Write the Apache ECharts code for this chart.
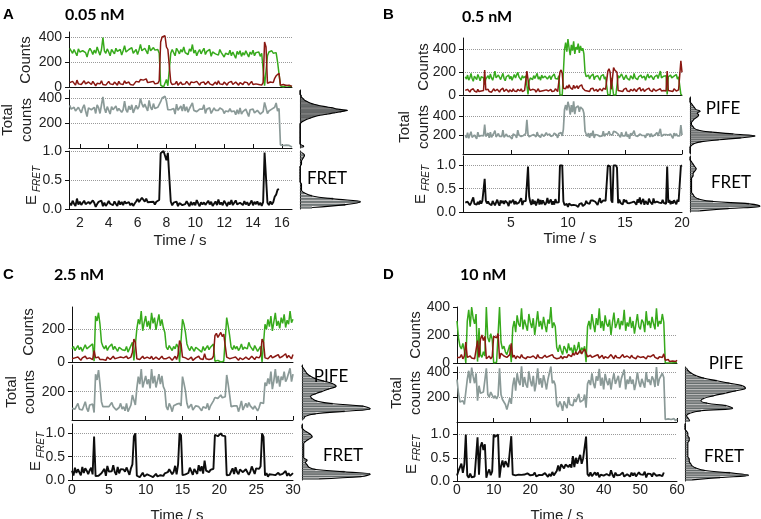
<!DOCTYPE html>
<html><head><meta charset="utf-8">
<script src="https://cdn.jsdelivr.net/npm/echarts@6/dist/echarts.min.js"></script>
<style>html,body{margin:0;padding:0;background:#fff}#c{width:761px;height:519px}</style>
</head><body><div id="c"></div>
<script>
// ---------------- DATA ----------------
// Panel A (0.05 nM): samples every 0.1 s from 1.3 s
const tStartA = 1.3, dtA = 0.1;
const greenA = [310,295,270,300,285,250,305,280,265,290, 300,275,240,285,310,290,260,295,270,320, 285,255,300,395,290,270,305,280,250,300, 290,265,310,285,275,300,255,290,330,280, 265,300,290,315,270,285,300,260,295,340, 290,275,310,300,265,335,290,280,315,295, 280,300,270,
  15,5,0,10,60,10,5,
  270,300,285,250,310,290,265,300,280,320, 275,290,260,305,285,340,270,295,250,280, 300,265,290,310,260,285,270,300,245,280, 295,265,280,255,300,275,290,240,270,285, 260,295,250,280,270,230,285,260,290,245, 275,255,290,265,240,280,260,295,250,275, 265,280,245,270,260,
  10,5,
  250,280,265,290,270,260,275,200,210,
  10,5,0,8,12,3,6,10,4];
const redA = [35,20,45,30,15,55,25,40,20,35, 50,25,15,40,30,20,45,35,10,30, 40,25,50,20,35,15,30,45,25,35, 20,40,30,15,45,25,35,20,50,30, 25,40,20,35,15,30,45,55,40,60, 70,55,45,65,35,50,40,30,45,25, 40,30,50,
  360,400,390,410,320,300,310,
  40,20,35,25,45,15,30,40,20,35, 25,45,30,15,40,25,35,20,45,30, 15,35,25,40,20,30,45,25,35,15, 30,40,20,50,25,35,20,40,30,15, 35,25,45,20,30,40,25,15,35,30, 20,40,25,35,15,30,45,20,35,25, 40,20,30,15,35,
  360,320,
  30,20,40,25,35,70,90,100,110,
  15,10,20,5,12,8,15,10,5];

// Panel B (0.5 nM): samples every 0.1 s from 1.0 s
const tStartB = 1.0, dtB = 0.1;
const greenB = [160,140,175,130,150,190,145,120,165,150,135,180,155,125,160,145,
  150,90,140,
  155,170,140,185,150,130,165,210,150,140, 175,160,135,150,190,145,125,160,150,175, 140,165,130,155,180,150,140,200,160,145, 130,170,150,140,165,
  150,5,120,
  150,165,135,170,145,155,190,140,160,130, 175,150,145,165,180,140,155,170,135,160, 150,185,145,160,140,170,
  0,5,0,200,
  400,460,380,490,410,350,440,390,470,360, 420,400,450,370,430,390,410,360,
  200,160,150,175,140,165,150,185,135,160, 145,170,150,130,165,155,180,140,160,150,
  0,10,5,
  150,160,
  0,5,0,10,
  170,150,140,185,160,135,150,175,145,160, 130,170,155,140,190,150,165,135,160,145, 175,150,140,165,130,160,185,150,140,170, 155,135,160,150,175,145,160,210,150,140, 165,155,170,
  5,
  160,145,175,150,135,165,150,180,140,160,150,
  5,0];
const redB = [40,30,50,35,25,45,30,55,35,40,25,50,30,40,35,45,
  40,220,45,
  35,50,30,45,25,40,55,35,30,50, 40,25,45,35,60,30,40,50,35,25, 45,40,30,55,35,45,30,50,40,35, 55,30,45,40,50,
  210,200,60,
  40,30,50,35,45,25,40,55,30,45, 35,50,40,30,45,60,35,40,50,30, 45,35,55,40,30,45,
  200,220,190,60,
  70,55,80,60,90,65,75,50,85,60, 70,80,55,75,65,90,60,70,
  40,50,35,45,30,55,40,60,35,45, 50,30,45,55,40,35,60,45,50,40,
  210,230,200,
  50,40,
  240,220,230,200,
  40,55,35,45,30,50,40,60,35,45, 30,50,40,35,55,45,30,50,40,65, 35,45,55,30,40,50,35,60,40,45, 30,55,40,35,50,45,40,55,35,50, 40,45,35,
  210,
  40,50,35,45,30,55,40,35,50,45,40,
  300,200];

// Panel C (2.5 nM): samples every 0.2 s from 0 s
const tStartC = 0, dtC = 0.2;
const greenC = [80,95,70,85,100,75,90,65,85,105,80,70,95,85,110,
  5,
  280,250,300,230,
  120,95,80,100,70,90,85,110,75,95, 80,65,90,100,75,85,70,95,60,80, 90,120,
  10,0,
  200,260,230,310,190,240,280,215,250,200, 300,235,270,195,245,290,220,260,210,180,
  90,75,100,85,70,95,80,110,90,
  0,5,
  260,230,180,
  110,85,70,95,80,65,90,100,75,85, 60,95,70,80,100,75,90,85,110,
  5,0,10,5,0,8,5,10,
  270,220,160,
  90,75,100,80,95,70,85,110,75,90, 100,80,120,95,85,70,100,90,65,80, 95,
  0,10,
  230,200,260,215,280,190,245,300,220,250, 205,270,235,290,210,255,230,310,240,260];
const redC = [20,10,25,15,30,20,10,25,15,35,20,10,25,30,15,
  70,
  25,20,30,15,
  20,15,25,10,30,20,15,25,35,20, 10,25,15,30,20,25,15,35,20,10, 30,60,
  140,120,
  20,30,15,25,35,20,15,30,25,20, 35,15,25,30,20,15,25,35,20,30,
  20,15,30,25,10,20,35,15,45,
  130,110,
  30,20,25,
  20,15,25,30,10,20,25,15,35,20, 25,15,50,20,30,15,25,20,35,
  160,175,150,165,180,155,170,160,
  30,25,20,
  20,25,15,30,20,10,25,35,15,20, 30,25,15,20,35,25,15,30,20,25, 40,
  140,120,
  25,35,20,30,40,25,20,35,30,45, 25,20,35,30,50,25,40,30,20,45];

// Panel D (10 nM): samples every 0.4 s from 0 s
const tStartD = 0, dtD = 0.4;
const greenD = [300, 180,120,100,140,90, 0, 300,380,260,400,320,280,350, 10, 250, 60,40,80,50, 400, 180,150,210,170, 0,10,5,0, 400, 150,100,120,80,60, 70, 130, 5,
  250,300,220,340,280,260,390,240,310,270, 230,350,290,250,320,200,280,370,260,300, 240,330,270,220,310,280,400,250,290,260,
  110,80,130,90,60,120,100,70,140,90, 110,60,130,80,100,150,70,110,90,120,
  5,
  260,300,240,350,280,220,320,270,390,250, 300,230,340,280,260,310,200,290,360,250, 280,320,240,300,270,380,230,290,260,330, 250,300,210,280,350,260,240,310,290,220, 370,270,300,250,330,280,240,390,260,300, 280,350,290,
  0,5,0,3,0,5,2,0,4];
const redD = [40, 50,40,60,30,50, 150, 40,30,50,35,45,30,40, 160, 40, 170,200,160,190, 30, 40,50,30,45, 190,200,180,210, 30, 70,80,50,60,40, 30, 60, 140,
  40,55,30,50,45,35,60,40,50,30, 45,55,40,35,50,45,30,60,40,50, 35,45,55,40,30,50,45,60,40,35,
  30,40,35,50,30,45,55,40,60,50, 45,70,55,80,60,75,90,65,85,100,
  110,
  45,35,55,40,30,50,45,60,35,40, 55,30,45,50,35,40,60,45,30,55, 40,50,35,45,60,40,30,50,45,35, 55,40,45,30,50,60,40,35,45,55, 30,50,40,45,35,60,40,50,30,45, 55,40,65,
  20,15,25,10,20,15,25,10,20];

// Histograms (bins span each axis range, bottom to top)
const histA_tot = [2,3,1, 0,0,0,0,0,0,0,0,0,0,0,0,0,0,0,0,0, 1,2,4, 6,9,12,16, 22,28,33, 38,30, 26,20,15, 11,8,6,4, 3,2,1,1, 0,0,0,0]; // 0-470, 10 wide
const histA_E   = [8,30,40,22,8,3,1,1,1,0,0,0,0,0,0,1,1,2,3,1]; // 0-1.0, 0.05 wide
const histB_tot = [0,0,0,0,1, 3,8, 20,35, 45, 30, 15,6, 3,2,1,1,2, 3,5,6,5,7,4,3, 2,1,0,0,0]; // 0-600, 20 wide
const histB_E   = [6,25,45,38,15,6,3,2, 1,1,1,1,1,1,1,2, 2,3,4,3,2, 1,0,0]; // 0-1.2
const histC_tot = [1,2,8,25,40,36,18,9,6,5,8,12,16,20,18,13,8,5,3,2,1,0]; // 30-360, 15 wide
const histC_E   = [10,35,40,25,8,4,3,2,3, 1,1,1,1,1,1,1, 2,4,6,5,3, 1,0,0]; // 0-1.2
const histD_tot = [3,2,1,3,10,30,26,14,10,12,18,25,32,38,36,28,20,12,7,4,2,1]; // 0-440, 20 wide
const histD_E   = [5,25,45,32,14,8,5,4,3,3,2, 2,2,2,2,2, 2,3,3,2,2, 1,0,0,0]; // 0-1.25

// ---------------- BUILD ----------------
const FONT = '"Liberation Sans", Arial, sans-serif';
const COL = {green:'#37aa1c', red:'#8a1812', total:'#8b9a98', E:'#0d0d0d', axis:'#111111', text:'#222222'};

function xy(t0, dt, arr){ return arr.map((v,i)=>[+(t0 + i*dt).toFixed(2), v]); }
function sumArr(g, r){ return g.map((v,i)=>v + r[i]); }
function fretArr(g, r){ return g.map((v,i)=>{ const s = v + r[i]; return s >= 60 ? +(r[i]/s).toFixed(3) : '-'; }); }

const grids=[], xAxes=[], yAxes=[], series=[], graphics=[];

function traceGrid(rect, xc, yc, kind, lines){
  const gi = grids.length;
  grids.push({left:rect[0], top:rect[1], width:rect[2], height:rect[3], containLabel:false});
  const xa = {gridIndex:gi, type:'value', min:xc.min, max:xc.max,
    axisLine:{show:true, onZero:false, lineStyle:{color:COL.axis, width:1}},
    axisTick:{show: kind==='mid', inside:true, length:4, lineStyle:{color:COL.axis}},
    axisLabel:{show: kind==='bot', fontSize:14, color:COL.text, fontFamily:FONT, margin: xc.margin},
    splitLine:{show:false}};
  if (xc.interval) xa.interval = xc.interval;
  if (xc.ticks){ xa.axisTick.customValues = xc.ticks; xa.axisLabel.customValues = xc.ticks; }
  xAxes.push(xa);
  const ya = {gridIndex:gi, type:'value', min:yc.min, max:yc.max, interval:yc.interval,
    axisLine:{show:true, onZero:false, lineStyle:{color:COL.axis}},
    axisTick:{show:true, length:4, lineStyle:{color:COL.axis}},
    axisLabel:{fontSize:14, color:COL.text, fontFamily:FONT, margin:7,
      showMinLabel: yc.showMin !== false, showMaxLabel: yc.showMax === true},
    splitLine:{show:true, showMaxLine: yc.maxLine === true, lineStyle:{type:'dotted', color:'#9a9a9a', width:1}}};
  if (yc.fmt) ya.axisLabel.formatter = yc.fmt;
  yAxes.push(ya);
  lines.forEach(l => series.push({type:'line', xAxisIndex:gi, yAxisIndex:gi, data:l.data,
    showSymbol:false, symbol:'none', animation:false, clip:true,
    lineStyle:{color:l.color, width:l.width}, z:2}));
}

function histGrid(rect, counts, xmax){
  const gi = grids.length;
  grids.push({left:rect[0], top:rect[1], width:rect[2], height:rect[3], containLabel:false});
  xAxes.push({gridIndex:gi, type:'value', min:0, max:xmax, show:false});
  yAxes.push({gridIndex:gi, type:'category', data:counts.map((_,i)=>'b'+i), boundaryGap:true,
    axisLine:{show:true, lineStyle:{color:COL.axis}}, axisTick:{show:false}, axisLabel:{show:false}, splitLine:{show:false}});
  series.push({type:'bar', xAxisIndex:gi, yAxisIndex:gi, data:counts, barCategoryGap:'30%', animation:false,
    itemStyle:{color:'#869090', borderColor:'#333', borderWidth:0.5}});
  series.push({type:'line', xAxisIndex:gi, yAxisIndex:gi, data:counts, smooth:0.4, symbol:'none', showSymbol:false, animation:false,
    lineStyle:{color:'#000', width:1.1}});
}

const fmt1 = v => v.toFixed(1);
const panels = [
  {g:greenA, r:redA, t0:tStartA, dt:dtA,
   x:{min:1.25, max:16.7, ticks:[2,4,6,8,10,12,14,16], margin:7},
   top:[69,32,223,55], mid:[69,90,223,58], bot:[69,151,223,58],
   yTop:{min:0,max:440,interval:200}, yMid:{min:0,max:470,interval:200,showMin:false},
   yBot:{min:0,max:1.0,interval:0.5,fmt:fmt1,showMax:true,maxLine:true},
   hMid:[300,90,50,58], hBot:[300,151,62,58], hTot:histA_tot, hE:histA_E, hTotMax:40, hEMax:41},
  {g:greenB, r:redB, t0:tStartB, dt:dtB,
   x:{min:0.8, max:20, ticks:[5,10,15,20], margin:4},
   top:[463,38,219,57], mid:[463,97,219,57], bot:[463,156,219,56],
   yTop:{min:0,max:500,interval:200}, yMid:{min:0,max:600,interval:200,showMin:false},
   yBot:{min:0,max:1.2,interval:0.5,fmt:fmt1},
   hMid:[690,97,68,57], hBot:[690,156,70,56], hTot:histB_tot, hE:histB_E, hTotMax:47, hEMax:45},
  {g:greenC, r:redC, t0:tStartC, dt:dtC,
   x:{min:0, max:30, interval:5, margin:3},
   top:[72,307,221,55], mid:[72,365,221,55], bot:[72,424,221,56],
   yTop:{min:0,max:335,interval:200}, yMid:{min:30,max:360,interval:170,showMin:false},
   yBot:{min:0,max:1.2,interval:0.5,fmt:fmt1},
   hMid:[302,365,70,55], hBot:[302,424,70,56], hTot:histC_tot, hE:histC_E, hTotMax:41, hEMax:41},
  {g:greenD, r:redD, t0:tStartD, dt:dtD,
   x:{min:0, max:60, interval:10, margin:2},
   top:[457,307,220,56], mid:[457,367,220,55], bot:[457,423,220,58],
   yTop:{min:0,max:400,interval:200,showMax:true}, yMid:{min:0,max:440,interval:200,showMin:false},
   yBot:{min:0,max:1.25,interval:0.5,fmt:fmt1},
   hMid:[685,367,62,55], hBot:[685,423,65,58], hTot:histD_tot, hE:histD_E, hTotMax:39, hEMax:46}
];

panels.forEach(p => {
  const green = xy(p.t0, p.dt, p.g), red = xy(p.t0, p.dt, p.r);
  const tot = xy(p.t0, p.dt, sumArr(p.g, p.r));
  const E = xy(p.t0, p.dt, fretArr(p.g, p.r));
  traceGrid(p.top, p.x, p.yTop, 'top', [{data:green, color:COL.green, width:1.5}, {data:red, color:COL.red, width:1.5}]);
  traceGrid(p.mid, p.x, p.yMid, 'mid', [{data:tot, color:COL.total, width:1.7}]);
  traceGrid(p.bot, p.x, p.yBot, 'bot', [{data:E, color:COL.E, width:1.9}]);
  histGrid(p.hMid, p.hTot, p.hTotMax);
  histGrid(p.hBot, p.hE, p.hEMax);
});

function txt(x, y, text, font, opt){
  opt = opt || {};
  graphics.push({type:'text', x:x, y:y, rotation: opt.rot ? Math.PI/2 : 0, z:100,
    style:{text:text, font:font, fill: opt.fill || COL.text, textAlign: opt.align || 'center', textVerticalAlign:'middle'}});
}
const F_AX = '15px ' + FONT, F_SUB = 'italic 10px ' + FONT, F_LET = 'bold 15px ' + FONT,
      F_CONC = 'bold 16px Lato, "Open Sans", sans-serif', F_HIST = '17px Lato, "Open Sans", sans-serif';
// panel letters and concentrations
txt(3,15,'A',F_LET,{align:'left', fill:'#000'}); txt(65,15,'0.05 nM',F_CONC,{align:'left', fill:'#000'});
txt(383,15,'B',F_LET,{align:'left', fill:'#000'}); txt(462,17,'0.5 nM',F_CONC,{align:'left', fill:'#000'});
txt(3,275,'C',F_LET,{align:'left', fill:'#000'}); txt(54,275,'2.5 nM',F_CONC,{align:'left', fill:'#000'});
txt(383,275,'D',F_LET,{align:'left', fill:'#000'}); txt(460,275,'10 nM',F_CONC,{align:'left', fill:'#000'});
// axis names
const names = [
  {c:[26,60], t:[8,120], tc:[27,120], e:[32,200], f:[37,179], time:[180,241]},
  {c:[424,67], t:[405,127], tc:[424,127], e:[421,199], f:[426,178], time:[570,239]},
  {c:[29,332], t:[12,392], tc:[30,392], e:[36,466], f:[41,445], time:[177,516]},
  {c:[416,335], t:[397,393], tc:[416,393], e:[412,469], f:[417,448], time:[557,516]}
];
names.forEach(n => {
  txt(n.c[0], n.c[1], 'Counts', F_AX, {rot:true});
  txt(n.t[0], n.t[1], 'Total', F_AX, {rot:true});
  txt(n.tc[0], n.tc[1], 'counts', F_AX, {rot:true});
  txt(n.e[0], n.e[1], 'E', F_AX, {rot:true});
  txt(n.f[0], n.f[1], 'FRET', F_SUB, {rot:true});
  txt(n.time[0], n.time[1], 'Time / s', F_AX);
});
// histogram labels
txt(327,179,'FRET',F_HIST,{fill:'#000'});
txt(723,109,'PIFE',F_HIST,{fill:'#000'}); txt(731,183,'FRET',F_HIST,{fill:'#000'});
txt(331,377,'PIFE',F_HIST,{fill:'#000'}); txt(343,456,'FRET',F_HIST,{fill:'#000'});
txt(726,364,'PIFE',F_HIST,{fill:'#000'}); txt(724,457,'FRET',F_HIST,{fill:'#000'});

const chart = echarts.init(document.getElementById('c'), null, {renderer:'canvas'});
chart.setOption({
  animation:false,
  backgroundColor:'#ffffff',
  grid:grids, xAxis:xAxes, yAxis:yAxes, series:series, graphic:graphics
});
</script></body></html>
